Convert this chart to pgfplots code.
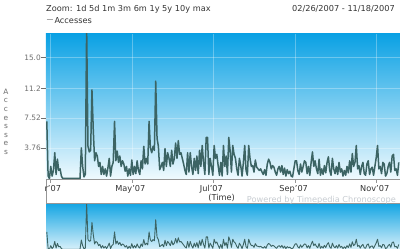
\documentclass[border=0pt]{standalone}
\usepackage{pgfplots}
\pgfplotsset{compat=1.18}
\usepackage{pgfplotstable}
\usepackage{fontspec}
\setmainfont{DejaVu Sans}
\definecolor{linec}{RGB}{60,100,100}
\definecolor{topb}{RGB}{10,161,228}
\definecolor{midb}{RGB}{92,191,237}
\definecolor{botb}{RGB}{240,250,254}
\definecolor{otop}{RGB}{20,165,227}
\definecolor{omid}{RGB}{105,200,239}
\definecolor{obot}{RGB}{215,240,250}
\definecolor{txt}{RGB}{51,51,51}
\definecolor{tickc}{RGB}{110,110,110}
\definecolor{bandb}{RGB}{150,150,150}
\definecolor{powc}{RGB}{200,205,210}

\pgfplotstableread{
d v
0 7.1
1 0.3
2 0.0
3 1.5
4 0.3
5 1.0
6 3.2
7 0.5
8 2.4
9 1.0
10 1.2
11 0.3
12 0
13 0
14 0
15 0
16 0
17 0
18 0
19 0
20 0
21 0
22 0
23 0
24 0
25 0
26 3.8
27 1.5
28 0.2
29 0.5
30 18.8
31 4.0
32 3.3
33 3.5
34 11.0
35 6.0
36 2.2
37 3.2
38 2.8
39 1.5
40 2.0
41 0.5
42 1.5
43 0.5
44 1.2
45 0.3
46 1.3
47 2.5
48 0.3
49 1.5
50 2.0
51 7.1
52 2.2
53 3.4
54 2.0
55 2.8
56 1.5
57 2.2
58 1.8
59 0.9
60 1.5
61 0.3
62 1.2
63 0.4
64 2.3
65 0.5
66 1.5
67 0.6
68 2.2
69 1.0
70 0.5
71 2.2
72 1.2
73 4.0
74 1.8
75 2.5
76 1.8
77 7.1
78 3.8
79 3.2
80 4.0
81 3.5
82 12.1
83 5.0
84 4.0
85 1.1
86 1.5
87 2.0
88 1.0
89 3.7
90 1.5
91 3.2
92 2.5
93 1.5
94 3.5
95 1.8
96 2.5
97 4.4
98 2.5
99 4.7
100 3.0
101 3.2
102 2.5
103 1.8
104 1.0
105 0.5
106 3.2
107 0.8
108 3.2
109 1.5
110 0.5
111 2.5
112 1.0
113 2.8
114 0.6
115 3.5
116 1.5
117 4.1
118 2.0
119 0.5
120 5.1
121 5.1
122 0.5
123 2.5
124 1.5
125 0.4
126 4.1
127 2.5
128 3.0
129 1.6
130 0.4
131 2.0
132 0.3
133 4.1
134 1.5
135 2.8
136 0.5
137 5.1
138 3.5
139 0.8
140 4.1
141 3.0
142 2.5
143 1.2
144 0.4
145 2.5
146 1.6
147 0.3
148 2.0
149 4.1
150 1.0
151 0.4
152 4.1
153 2.5
154 1.5
155 1.6
156 0.8
157 2.3
158 1.4
159 1.2
160 1.0
161 1.2
162 0.8
163 0.5
164 1.1
165 0.4
166 1.8
167 2.4
168 2.0
169 1.2
170 1.6
171 1.4
172 0.8
173 0.4
174 1.2
175 1.5
176 0.8
177 1.6
178 0.5
179 1.3
180 0.3
181 1.1
182 0.6
183 0.9
184 0.3
185 0.2
186 1.2
187 2.2
188 2.2
189 1.0
190 0.5
191 1.8
192 0.8
193 1.5
194 2.2
195 2.0
196 0.6
197 1.5
198 0.4
199 2.0
200 3.3
201 1.5
202 2.2
203 1.2
204 0.6
205 2.4
206 0.4
207 1.2
208 0.5
209 1.6
210 0.7
211 2.0
212 2.7
213 1.0
214 0.4
215 2.5
216 1.2
217 0.6
218 1.5
219 0.5
220 2.0
221 0.8
222 1.2
223 0.3
224 1.0
225 0.4
226 1.5
227 0.7
228 2.2
229 0.8
230 3.1
231 1.5
232 2.0
233 4.1
234 1.2
235 1.6
236 0.5
237 1.5
238 2.0
239 0.6
240 0.4
241 1.8
242 2.2
243 0.5
244 1.2
245 1.4
246 0.4
247 1.5
248 2.6
249 4.1
250 1.2
251 1.5
252 0.6
253 2.0
254 1.8
255 0.3
256 0.6
257 1.5
258 2.0
259 0.8
260 2.8
261 3.0
262 1.0
263 1.2
264 0.4
265 2.0
}\data

\begin{document}
\begin{tikzpicture}[x=1pt,y=1pt]
\useasboundingbox (0pt,0pt) rectangle (400pt,249pt);
\begin{scope}
\clip (0pt,0pt) rectangle (400pt,249pt);
% header
\node[anchor=base west, font=\fontsize{8.2}{10}\selectfont, text=txt, inner sep=0] at (46pt,237pt) {Zoom: 1d 5d 1m 3m 6m 1y 5y 10y max};
\node[anchor=base east, font=\fontsize{8.2}{10}\selectfont, text=txt, inner sep=0] at (395pt,237pt) {02/26/2007 - 11/18/2007};
\draw[gray!70, line width=1pt] (46.7pt,229.3pt) -- (53.3pt,229.3pt);
\node[anchor=base west, font=\fontsize{8.2}{10}\selectfont, text=txt, inner sep=0] at (54.3pt,225pt) {Accesses};

% main axis
\begin{axis}[at={(46pt,69.7pt)}, anchor=south west, scale only axis,
  width=354pt, height=145.3pt,
  xmin=-0.6, xmax=265.9, ymin=-0.1, ymax=17.95,
  axis line style={draw=none},
  axis background/.style={top color=topb, middle color=midb, bottom color=botb},
  ytick={3.76,7.52,11.2,15.0}, yticklabels={3.76,7.52,11.2,15.0},
  xtick={3,64,125,187,248}, xticklabels={},
  ytick pos=left, tick align=outside, major tick length=4.5pt,
  xtick style={draw=none},
  ytick style={draw=tickc, line width=0.6pt},
  grid=major, major grid style={white, opacity=0.3, line width=0.6pt},
  yticklabel style={font=\fontsize{7.4}{9}\selectfont, text=tickc, inner sep=0.5pt},
  ylabel={A\\c\\c\\e\\s\\s\\e\\s},
  ylabel style={rotate=-90, align=center, font=\fontsize{7.4}{8.6}\selectfont, text=tickc,
    at={(axis description cs:-0.113,0.396)}, anchor=center},
]
\addplot[color=linec, line width=1.5pt, line join=round] table[x=d, y=v] {\data};
\end{axis}

% overview strip
\begin{axis}[at={(46pt,-0.3pt)}, anchor=south west, scale only axis,
  width=354pt, height=46pt,
  xmin=-0.6, xmax=265.9, ymin=0, ymax=18.8,
  axis line style={draw=none},
  axis background/.style={top color=otop, middle color=omid, bottom color=obot},
  xtick=\empty, ytick=\empty,
]
\addplot[color=linec, line width=0.9pt, line join=round] table[x=d, y=v] {\data};
\end{axis}

% time band
\begin{scope}
\clip (45.5pt,0pt) rectangle (400pt,249pt);
\begin{axis}[at={(46pt,45.7pt)}, anchor=south west, scale only axis,
  width=354pt, height=23.6pt,
  xmin=-0.6, xmax=265.9, ymin=0, ymax=1,
  axis line style={draw=bandb, line width=0.8pt},
  axis background/.style={fill=white},
  ytick=\empty,
  xtick={3,64,125,187,248},
  xticklabels={{\kern-5pt Mar'07},May'07,Jul'07,Sep'07,Nov'07},
  xtick pos=upper, xticklabel pos=upper, tick align=inside, major tick length=3pt,
  xtick style={draw=bandb, line width=0.6pt},
  xticklabel style={font=\fontsize{8.2}{10}\selectfont, text=txt, anchor=base, yshift=-11.7pt, xshift=-1.5pt},
  xlabel={(Time)},
  xlabel style={font=\fontsize{8.2}{10}\selectfont, text=txt, at={(axis description cs:0.5,0)}, anchor=base, yshift=3pt, xshift=-1.3pt},
]
\end{axis}
\end{scope}
\node[anchor=base west, font=\fontsize{8.2}{10}\selectfont, text=powc, inner sep=0] at (246.7pt,46.7pt) {Powered by Timepedia Chronoscope};
\end{scope}
\end{tikzpicture}
\end{document}
